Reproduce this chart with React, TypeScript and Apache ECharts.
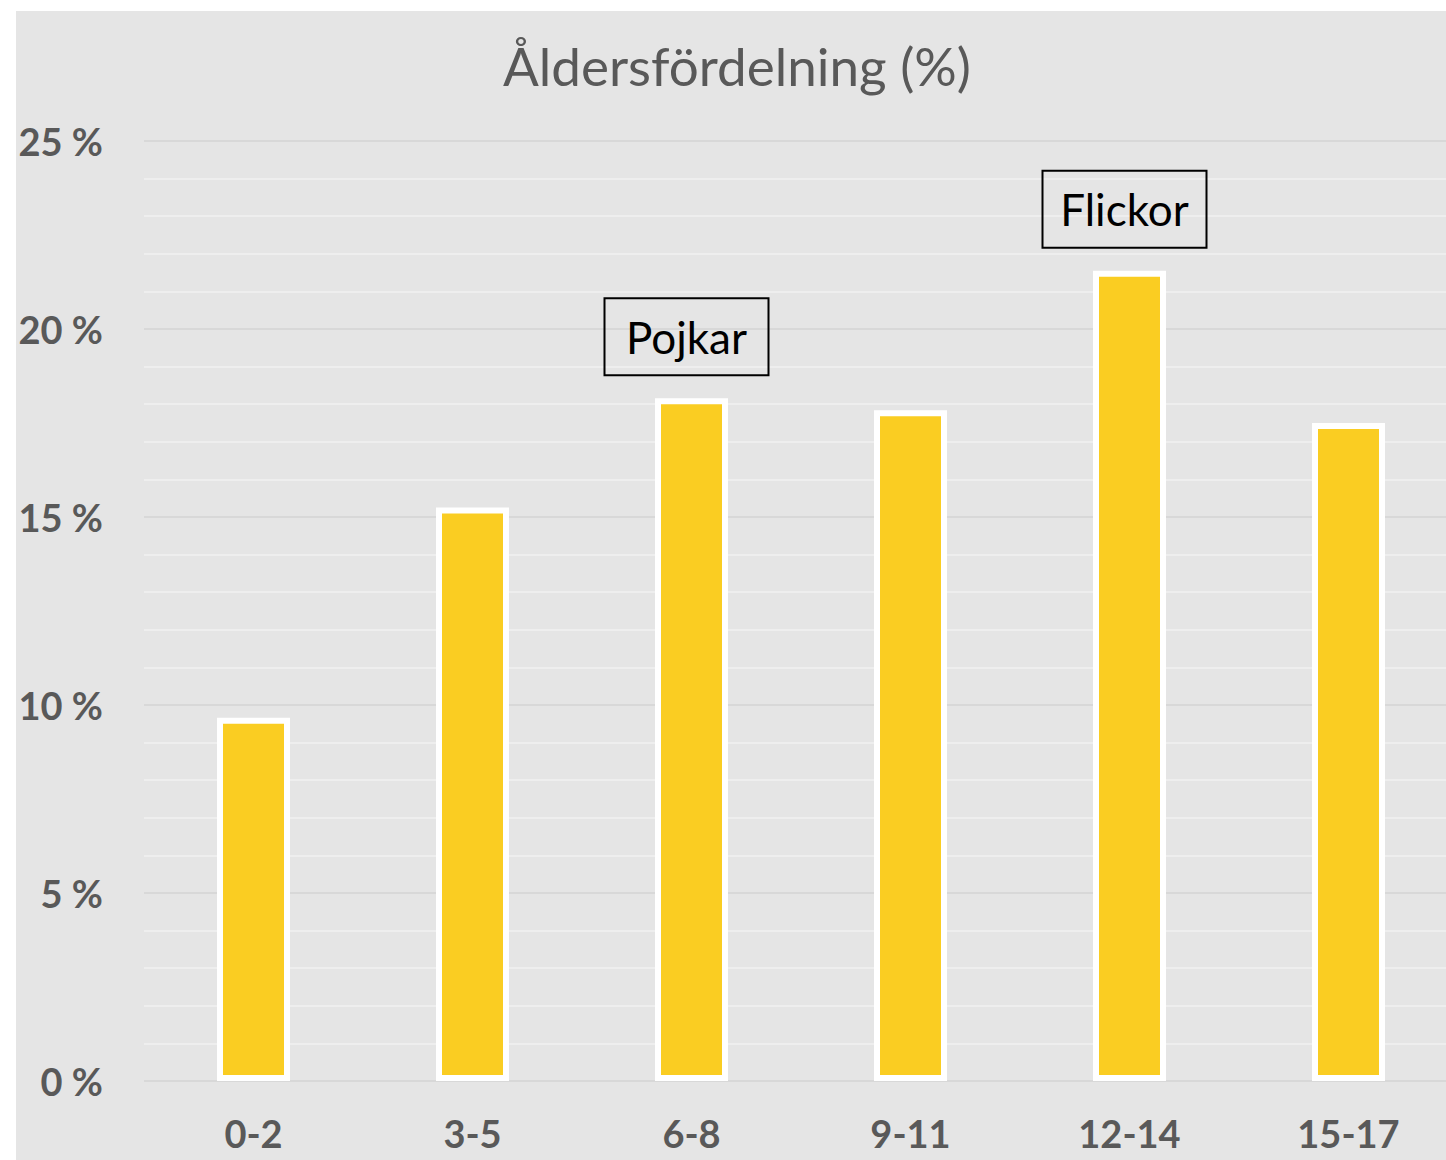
import React, { useEffect, useRef } from "react";
import * as echarts from "echarts";

const categories = ["0-2", "3-5", "6-8", "9-11", "12-14", "15-17"];
const values = [9.66, 15.25, 18.16, 17.84, 21.55, 17.5];
const annotations: Record<string, string> = { "6-8": "Pojkar", "12-14": "Flickor" };
const titleText = "Åldersfördelning (%)";
const FONT = "Lato, 'Open Sans', sans-serif";

export default function App() {
  const ref = useRef<HTMLDivElement>(null);
  useEffect(() => {
    if (!ref.current) return;
    const chart = echarts.init(ref.current, undefined, { renderer: "svg" });
    const data = categories.map((c, i) => {
      const item: any = { value: values[i] };
      if (annotations[c]) {
        item.label = {
          show: true,
          position: "top",
          distance: 23,
          offset: [-5, 0],
          formatter: annotations[c],
          color: "#000000",
          fontFamily: FONT,
          fontSize: 44,
          borderColor: "#000000",
          borderWidth: 2,
          width: 164,
          height: 77,
          lineHeight: 77,
          align: "center",
          padding: 0,
        };
      }
      return item;
    });
    chart.setOption({
      animation: false,
      backgroundColor: "#ffffff",
      textStyle: { fontFamily: FONT },
      title: {
        text: titleText,
        left: 732,
        textAlign: "center",
        top: 34,
        textStyle: { fontFamily: FONT, fontSize: 53, fontWeight: "normal", color: "#595959" },
      },
      graphic: [
        {
          type: "rect",
          z: -10,
          shape: { x: 16, y: 11, width: 1442, height: 1149 },
          style: { fill: "#e5e5e5" },
          silent: true,
        },
      ],
      grid: { left: 144, right: 0, top: 141, bottom: 79, containLabel: false },
      xAxis: {
        type: "category",
        data: categories,
        axisLine: { show: false },
        axisTick: { show: false },
        axisLabel: { color: "#595959", fontSize: 38, fontWeight: "bold", fontFamily: FONT, margin: 33 },
      },
      yAxis: {
        type: "value",
        min: 0,
        max: 25,
        interval: 5,
        axisLine: { show: false },
        axisTick: { show: false },
        axisLabel: { formatter: "{value} %", color: "#595959", fontSize: 38, fontWeight: "bold", fontFamily: FONT, margin: 41 },
        splitLine: { show: true, lineStyle: { color: "#d8d8d8", width: 2 } },
        minorTick: { show: false, splitNumber: 5 },
        minorSplitLine: { show: true, lineStyle: { color: "#eeeeee", width: 2 } },
      },
      series: [
        {
          type: "bar",
          data,
          barWidth: 73,
          itemStyle: { color: "#facd22", borderColor: "#ffffff", borderWidth: 6 },
        },
      ],
    });
    return () => chart.dispose();
  }, []);
  return (
    <div style={{ position: "absolute", left: 0, top: 0, width: 1446, height: 1160, overflow: "hidden" }}>
      <div ref={ref} style={{ width: 1458, height: 1160 }} />
    </div>
  );
}
